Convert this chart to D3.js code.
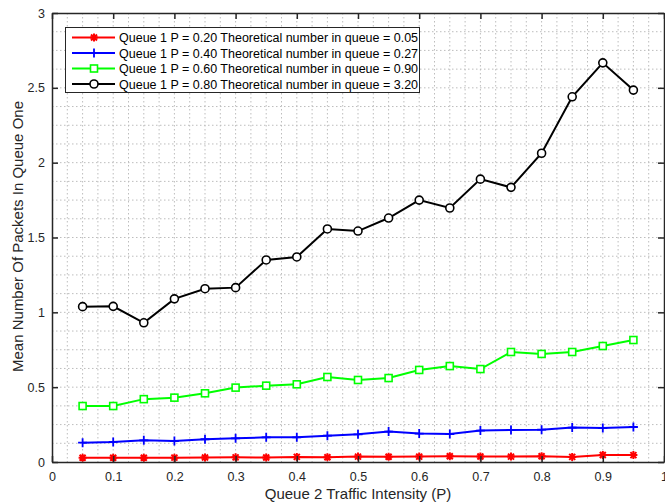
<!DOCTYPE html>
<html>
<head>
<meta charset="utf-8">
<script src="https://cdn.jsdelivr.net/npm/d3@7"></script>
<style>
  body { margin: 0; background: #fff; }
  svg { display: block; font-family: Arial, "Liberation Sans", sans-serif; }
</style>
</head>
<body>
<div id="chart"></div>
<script>
// Data
var xValues = [0.05, 0.10, 0.15, 0.20, 0.25, 0.30, 0.35, 0.40, 0.45, 0.50,
               0.55, 0.60, 0.65, 0.70, 0.75, 0.80, 0.85, 0.90, 0.95];
var queueP20 = [0.028, 0.028, 0.028, 0.029, 0.030, 0.031, 0.030, 0.034, 0.032, 0.036,
                0.035, 0.036, 0.038, 0.037, 0.036, 0.038, 0.034, 0.047, 0.046];
var queueP40 = [0.129, 0.134, 0.145, 0.140, 0.152, 0.158, 0.165, 0.165, 0.176, 0.185,
                0.203, 0.190, 0.187, 0.210, 0.214, 0.216, 0.230, 0.227, 0.234];
var queueP60 = [0.374, 0.374, 0.420, 0.430, 0.459, 0.497, 0.510, 0.519, 0.568, 0.548,
                0.561, 0.615, 0.641, 0.621, 0.735, 0.722, 0.735, 0.775, 0.815];
var queueP80 = [1.038, 1.040, 0.930, 1.090, 1.158, 1.165, 1.350, 1.370, 1.557, 1.543,
                1.630, 1.750, 1.697, 1.890, 1.835, 2.063, 2.440, 2.667, 2.485];
var legendLabels = [
  "Queue 1 P = 0.20 Theoretical number in queue = 0.05",
  "Queue 1 P = 0.40 Theoretical number in queue = 0.27",
  "Queue 1 P = 0.60 Theoretical number in queue = 0.90",
  "Queue 1 P = 0.80 Theoretical number in queue = 3.20"
];
var xTicks = [0, 0.1, 0.2, 0.3, 0.4, 0.5, 0.6, 0.7, 0.8, 0.9, 1];
var yTicks = [0, 0.5, 1, 1.5, 2, 2.5, 3];

var width = 665, height = 504;
var plotLeft = 52, plotRight = 664, plotTop = 13, plotBottom = 462;
var axisColor = "#262626";

var series = [
  { values: queueP20, color: "#ff0000", marker: "asterisk" },
  { values: queueP40, color: "#0000ff", marker: "plus" },
  { values: queueP60, color: "#00ff00", marker: "square" },
  { values: queueP80, color: "#000000", marker: "circle" }
];

function drawMarker(g, type, color) {
  if (type === "circle") {
    g.append("circle").attr("r", 4).attr("fill", "#fff")
      .attr("stroke", color).attr("stroke-width", 1.6);
  } else if (type === "square") {
    g.append("rect").attr("x", -3.5).attr("y", -3.5).attr("width", 7).attr("height", 7)
      .attr("fill", "#fff").attr("stroke", color).attr("stroke-width", 1.6);
  } else if (type === "plus") {
    g.append("path").attr("d", "M-4.5,0H4.5M0,-4.5V4.5")
      .attr("stroke", color).attr("stroke-width", 1.8);
  } else {
    g.append("path").attr("d", "M-4,0H4M0,-4V4M-3,-3L3,3M-3,3L3,-3")
      .attr("stroke", color).attr("stroke-width", 2);
  }
}

function init() {
  var svg = d3.select("#chart").append("svg")
    .attr("width", width)
    .attr("height", height);

  var xScale = d3.scaleLinear().domain([0, 1]).range([plotLeft, plotRight]);
  var yScale = d3.scaleLinear().domain([0, 3]).range([plotBottom, plotTop]);

  // Grid (minor and major, all dotted)
  var grid = svg.append("g").attr("class", "grid")
    .attr("stroke", "#bdbdbd").attr("stroke-width", 1)
    .attr("stroke-dasharray", "1.5,2.5");
  grid.selectAll("line.gx")
    .data(d3.range(1, 40).map(function(i) { return i * 0.025; }))
    .enter().append("line")
    .attr("class", "gx")
    .attr("x1", function(d) { return xScale(d); })
    .attr("x2", function(d) { return xScale(d); })
    .attr("y1", plotTop).attr("y2", plotBottom);
  grid.selectAll("line.gy")
    .data(d3.range(1, 24).map(function(i) { return i * 0.125; }))
    .enter().append("line")
    .attr("class", "gy")
    .attr("y1", function(d) { return yScale(d); })
    .attr("y2", function(d) { return yScale(d); })
    .attr("x1", plotLeft).attr("x2", plotRight);

  // Lines and markers
  var line = d3.line()
    .x(function(d, i) { return xScale(xValues[i]); })
    .y(function(d) { return yScale(d); });

  series.forEach(function(s) {
    svg.append("path")
      .datum(s.values)
      .attr("fill", "none")
      .attr("stroke", s.color)
      .attr("stroke-width", 2)
      .attr("d", line);
    svg.selectAll("g.m-" + s.marker)
      .data(s.values)
      .enter().append("g")
      .attr("class", "m-" + s.marker)
      .attr("transform", function(d, i) {
        return "translate(" + xScale(xValues[i]) + "," + yScale(d) + ")";
      })
      .each(function() { drawMarker(d3.select(this), s.marker, s.color); });
  });

  // Axes (MATLAB box with inward ticks)
  var xAxis = svg.append("g")
    .attr("transform", "translate(0," + plotBottom + ")")
    .call(d3.axisBottom(xScale).tickValues(xTicks).tickSizeInner(-6).tickSizeOuter(0)
      .tickPadding(10).tickFormat(d3.format("")));
  var yAxis = svg.append("g")
    .attr("transform", "translate(" + plotLeft + ",0)")
    .call(d3.axisLeft(yScale).tickValues(yTicks).tickSizeInner(-6).tickSizeOuter(0)
      .tickPadding(7).tickFormat(d3.format("")));
  var topAxis = svg.append("g")
    .attr("transform", "translate(0," + plotTop + ")")
    .call(d3.axisTop(xScale).tickValues(xTicks).tickSizeInner(-6).tickSizeOuter(0)
      .tickFormat(""));
  var rightAxis = svg.append("g")
    .attr("transform", "translate(" + plotRight + ",0)")
    .call(d3.axisRight(yScale).tickValues(yTicks).tickSizeInner(-6).tickSizeOuter(0)
      .tickFormat(""));

  [xAxis, yAxis, topAxis, rightAxis].forEach(function(a) {
    a.select(".domain").attr("stroke", axisColor).attr("stroke-width", 1.5);
    a.selectAll(".tick line").attr("stroke", axisColor).attr("stroke-width", 1.5);
    a.selectAll(".tick text").attr("fill", axisColor)
      .attr("font-family", "Arial, 'Liberation Sans', sans-serif")
      .attr("font-size", "12.5px");
  });

  // Axis labels
  svg.append("text")
    .attr("x", (plotLeft + plotRight) / 2)
    .attr("y", 499)
    .attr("text-anchor", "middle")
    .attr("font-size", "15px")
    .attr("fill", axisColor)
    .text("Queue 2 Traffic Intensity (P)");

  svg.append("text")
    .attr("transform", "translate(23," + ((plotTop + plotBottom) / 2 - 1) + ") rotate(-90)")
    .attr("text-anchor", "middle")
    .attr("font-size", "15px")
    .attr("fill", axisColor)
    .text("Mean Number Of Packets In Queue One");

  // Legend
  var legend = svg.append("g").attr("class", "legend");
  legend.append("rect")
    .attr("x", 65.5).attr("y", 27.5)
    .attr("width", 354).attr("height", 65)
    .attr("fill", "#fff")
    .attr("stroke", axisColor).attr("stroke-width", 1);

  var rows = legend.selectAll("g.row")
    .data(series)
    .enter().append("g")
    .attr("class", "row")
    .attr("transform", function(d, i) { return "translate(0," + (37.5 + i * 15.5) + ")"; });
  rows.append("line")
    .attr("x1", 72).attr("x2", 115)
    .attr("stroke", function(d) { return d.color; })
    .attr("stroke-width", 2);
  rows.append("g")
    .attr("transform", "translate(94,0)")
    .each(function(d) { drawMarker(d3.select(this), d.marker, d.color); });
  rows.append("text")
    .attr("x", 119)
    .attr("y", 4.5)
    .attr("font-size", "12.5px")
    .attr("fill", "#000")
    .text(function(d, i) { return legendLabels[i]; });
}

window.onload = init;
</script>
</body>
</html>
